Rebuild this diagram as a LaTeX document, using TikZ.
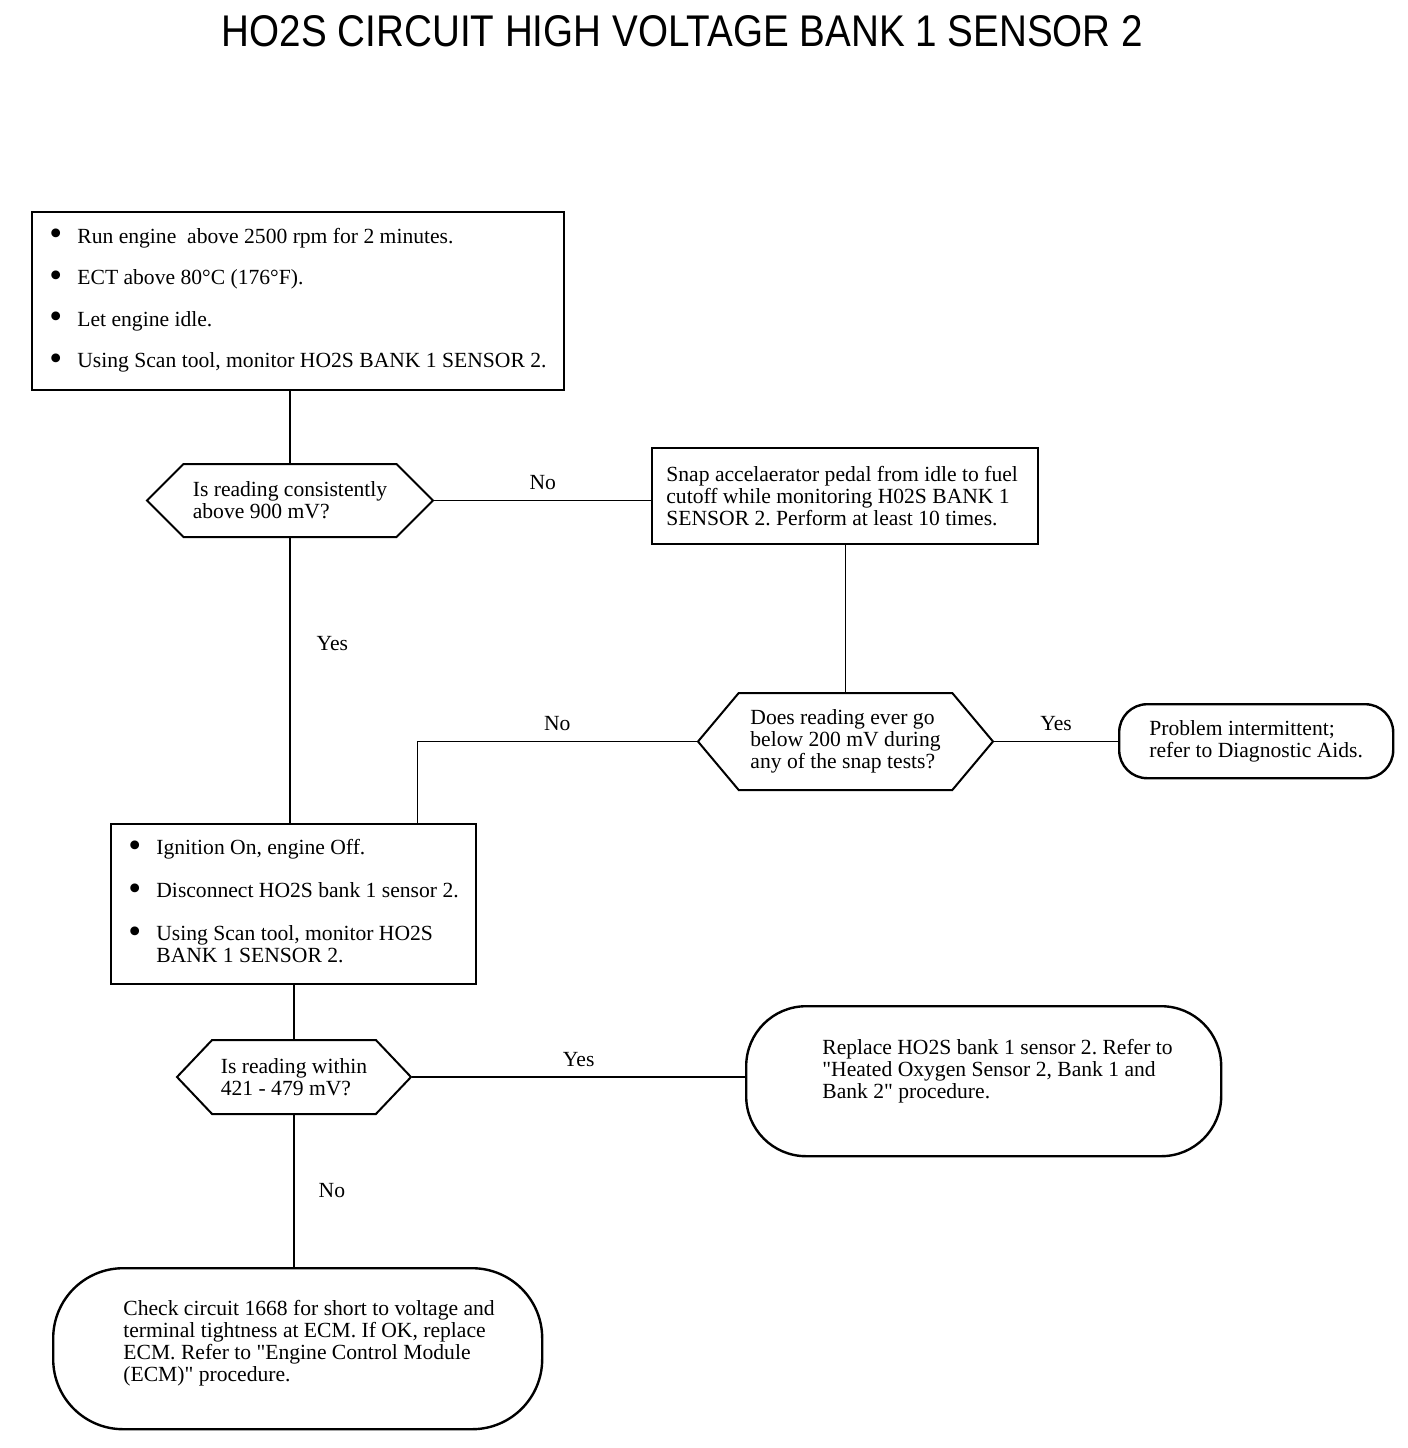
\documentclass[tikz,border=0pt]{standalone}
\usepackage{fontspec}
\setmainfont{Liberation Serif}
\setsansfont{Liberation Sans}
\usepackage{tikz}
\usetikzlibrary{calc,shapes.symbols}
\frenchspacing

\newcommand{\bigdot}{\raisebox{-1.2pt}{\scalebox{1.7}{\textbullet}}}

\begin{document}
\begin{tikzpicture}[x=0.5pt, y=-0.5pt,
    txt/.style={font=\fontsize{10.8}{11}\selectfont, inner sep=0pt, align=left, anchor=west},
    stepbox/.style={draw, line width=1.2pt, anchor=north west},
    endbox/.style={stepbox, rounded corners=#1},
    query/.style={draw, line width=1pt, signal, signal to=west and east,
      font=\fontsize{10.8}{11}\selectfont, align=left, inner sep=0pt},
    link/.style={line width=0.7pt},
    lbl/.style={font=\fontsize{10.8}{11}\selectfont, inner sep=5pt}]

  \fill[white] (0,0) rectangle (1408,1448);
  \useasboundingbox (0,0) rectangle (1408,1448);

  % title
  \node[inner sep=0pt] (title) at (682.5,31)
    {\resizebox{460.5pt}{15.5pt}{\sffamily HO2S CIRCUIT HIGH VOLTAGE BANK 1 SENSOR 2}};

  % action boxes
  \node[stepbox, minimum width=266pt, minimum height=89pt] (warmup) at (31,211) {};
  \node[txt] (warmup-txt) at ([xshift=9pt]warmup.west)
    {\begin{tabular}{@{}p{14pt}@{}l@{}}
      \bigdot & Run engine \ above 2500 rpm for 2 minutes.\\[9.75pt]
      \bigdot & ECT above 80°C (176°F).\\[9.75pt]
      \bigdot & Let engine idle.\\[9.75pt]
      \bigdot & Using Scan tool, monitor HO2S BANK 1 SENSOR 2.
     \end{tabular}};

  \node[stepbox, minimum width=193pt, minimum height=48pt] (snap) at (651,447) {};
  \node[txt] (snap-txt) at ([xshift=7.5pt]snap.west)
    {Snap accelaerator pedal from idle to fuel\\
     cutoff while monitoring H02S BANK 1\\
     SENSOR 2. Perform at least 10 times.};

  \node[stepbox, minimum width=182.5pt, minimum height=80pt] (ignoff) at (110,823) {};
  \node[txt] (ignoff-txt) at ([xshift=9pt]ignoff.west)
    {\begin{tabular}{@{}p{14pt}@{}l@{}}
      \bigdot & Ignition On, engine Off.\\[10.5pt]
      \bigdot & Disconnect HO2S bank 1 sensor 2.\\[10.5pt]
      \bigdot & Using Scan tool, monitor HO2S\\
              & BANK 1 SENSOR 2.
     \end{tabular}};

  % end boxes
  \node[endbox=14pt, minimum width=137pt, minimum height=37pt] (intermit) at (1118,703) {};
  \node[txt] (intermit-txt) at ([xshift=15.5pt]intermit.west)
    {Problem intermittent;\\refer to Diagnostic Aids.};

  \node[endbox=30pt, minimum width=237.5pt, minimum height=75pt] (replace) at (745,1005) {};
  \node[txt] (replace-txt) at ([xshift=38.5pt, yshift=5pt]replace.west)
    {Replace HO2S bank 1 sensor 2. Refer to\\
     \textquotedbl Heated Oxygen Sensor 2, Bank 1 and\\
     Bank 2\textquotedbl{} procedure.};

  \node[endbox=35pt, minimum width=244.5pt, minimum height=80.5pt] (checkecm) at (52,1267) {};
  \node[txt] (checkecm-txt) at ([xshift=35.5pt, yshift=2.75pt]checkecm.west)
    {Check circuit 1668 for short to voltage and\\
     terminal tightness at ECM. If OK, replace\\
     ECM. Refer to \textquotedbl Engine Control Module\\
     (ECM)\textquotedbl{} procedure.};

  % questions
  \node[query, signal pointer angle=90, minimum width=143pt, minimum height=36.5pt]
    (q900) at (290,500.5) {Is reading consistently\\above 900 mV?};
  \node[query, signal pointer angle=100, minimum width=147.5pt, minimum height=48.5pt]
    (q200) at (845.5,741.5) {Does reading ever go\\below 200 mV during\\any of the snap tests?};
  \node[query, signal pointer angle=93, minimum width=117pt, minimum height=37pt]
    (qwindow) at (294,1077) {Is reading within\\421 - 479 mV?};

  % connectors
  \draw[link] (q900.north) -- (q900.north |- warmup.south);
  \draw[link] (q900.east) -- node[lbl, above] (no900) {No} (q900.east -| snap.west);
  \draw[link] (snap.south) -- (snap.south |- q200.north);
  \draw[link] (q200.east) -- node[lbl, above] (yes200) {Yes} (q200.east -| intermit.west);
  \draw[link] (q200.west) -| node[lbl, above, pos=0.25] (no200) {No} ([xshift=62pt]ignoff.north);
  \draw[link] (q900.south) -- node[lbl, right=8pt, pos=0.37] (yes900) {Yes} (q900.south |- ignoff.north);
  \draw[link] (qwindow.north) -- (qwindow.north |- ignoff.south);
  \draw[link] (qwindow.east) -- node[lbl, above] (yeswin) {Yes} (qwindow.east -| replace.west);
  \draw[link] (qwindow.south) -- node[lbl, right=7pt] (nowin) {No} (qwindow.south |- checkecm.north);
\end{tikzpicture}
\end{document}
